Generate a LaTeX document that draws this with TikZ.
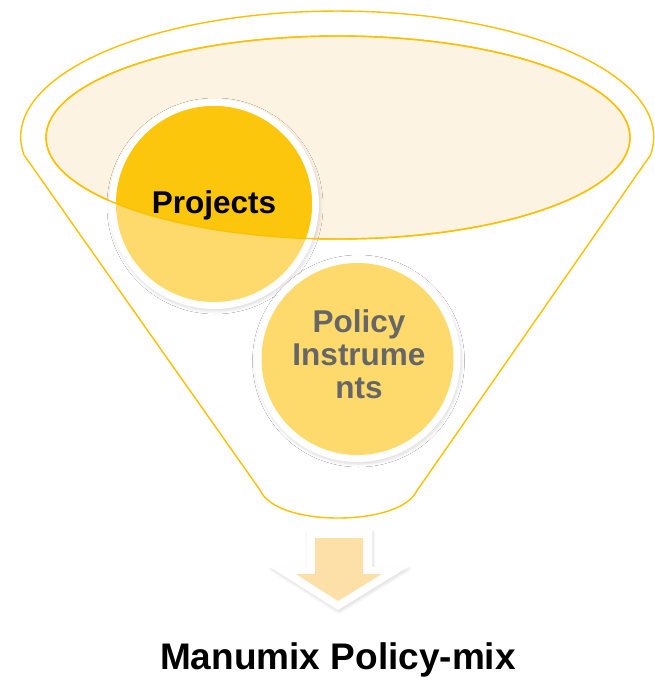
\documentclass[tikz,border=0pt]{standalone}
\usepackage{fontspec}
\setmainfont{Liberation Sans}
\usetikzlibrary{shadows.blur}
\definecolor{gold}{HTML}{FCC000}
\definecolor{darkyel}{HTML}{FCC60C}
\definecolor{lightyel}{HTML}{FDDA6B}
\definecolor{cream}{HTML}{FDF3E2}
\definecolor{peach}{HTML}{FDDFA8}
\definecolor{greytext}{HTML}{666666}
\tikzset{
  goldline/.style={draw=gold, line width=1.4pt},
  ringshadow/.style={fill=white, blur shadow={shadow xshift=1pt, shadow yshift=-2pt, shadow blur radius=3pt, shadow blur steps=8, shadow opacity=14}},
  bigtext/.style={font=\bfseries\fontsize{31.5}{33}\selectfont, inner sep=0pt},
}
\begin{document}
\begin{tikzpicture}[x=1pt,y=-1pt]
\useasboundingbox (0,0) rectangle (654,678);
% funnel outline
\path[goldline, fill=white] (24,155) arc[start angle=171.8, end angle=368.2, x radius=316.5, y radius=126]
  -- (416,492) .. controls (408,508) and (376,518) .. (338,518)
  .. controls (300,518) and (268,508) .. (260,490) -- cycle;
% inner ellipse
\path[goldline, fill=cream] (338,137.5) ellipse[x radius=292, y radius=101.5];
% Projects circle
\path[ringshadow] (214,204) circle[radius=105];
\fill[lightyel] (214,204) circle[radius=98];
\begin{scope}
  \clip (338,137.5) ellipse[x radius=292, y radius=101.5];
  \fill[darkyel] (214,204) circle[radius=98];
\end{scope}
\draw[goldline] (338,137.5) ellipse[x radius=292, y radius=101.5];
\node[bigtext, anchor=base] (proj) at (214,213) {Projects};
% Policy Instruments circle
\path[ringshadow] (357.5,359) circle[radius=103];
\fill[lightyel] (357.5,359) circle[radius=96];
\node[bigtext, text=greytext, align=center] (pol) at (359,354.5) {Policy\\Instrume\\nts};
% arrow
\path[ringshadow] (307,530) -- (372,530) -- (372,567) -- (408,567) -- (338,610) -- (270,567) -- (307,567) -- cycle;
\fill[peach] (315,538) -- (363,538) -- (363,574) -- (382,574) -- (338,601) -- (296,574) -- (315,574) -- cycle;
% title
\node[font=\bfseries\fontsize{37}{40}\selectfont, anchor=base, inner sep=0pt] (title) at (338,669) {Manumix Policy-mix};
\end{tikzpicture}
\end{document}
